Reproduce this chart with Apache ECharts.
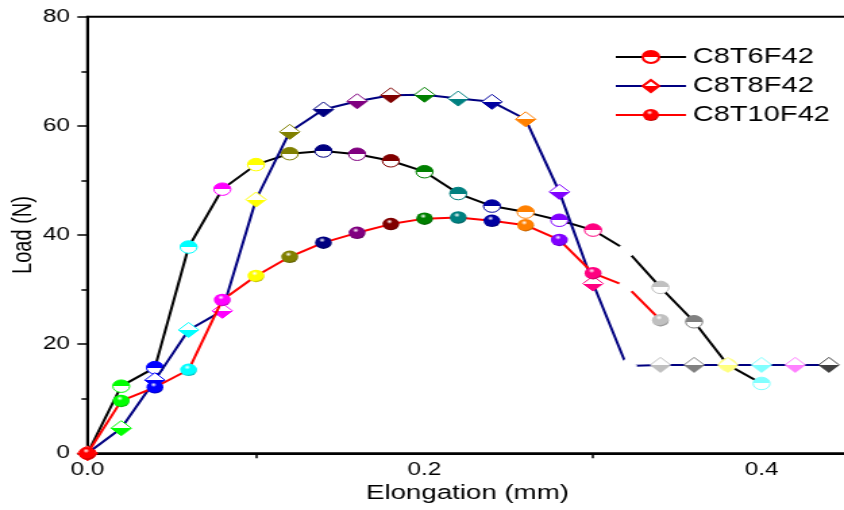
<!DOCTYPE html>
<html>
<head>
<meta charset="utf-8">
<script src="https://cdn.jsdelivr.net/npm/echarts@6/dist/echarts.min.js"></script>
<style>
html,body{margin:0;padding:0;background:#fff;overflow:hidden;width:844px;height:510px;}
#wrap{width:844px;height:510px;overflow:hidden;position:relative;}
#chart{width:625px;height:510px;transform:scaleX(1.3504);transform-origin:0 0;position:absolute;left:0;top:0;}
</style>
</head>
<body>
<div id="wrap"><div id="chart"></div></div>
<script>
// ---- data ----
var seriesNames = ['C8T6F42', 'C8T8F42', 'C8T10F42'];
var elongation = [0, 0.02, 0.04, 0.06, 0.08, 0.10, 0.12, 0.14, 0.16, 0.18, 0.20, 0.22, 0.24, 0.26, 0.28, 0.30, 0.32, 0.34, 0.36, 0.38, 0.40, 0.42, 0.44];
var loadC8T6F42 = [0, 12.3, 15.7, 37.8, 48.4, 52.9, 54.9, 55.4, 54.8, 53.6, 51.6, 47.6, 45.3, 44.2, 42.7, 40.9, 37.2, 30.4, 24.1, 16.2, 12.8];
var loadC8T8F42 = [0, 4.6, 13.4, 22.6, 26.1, 46.5, 58.9, 63.0, 64.5, 65.6, 65.7, 65.0, 64.4, 61.2, 47.9, 31.1, 16.0, 16.2, 16.2, 16.2, 16.2, 16.2, 16.2];
var loadC8T10F42 = [0, 9.6, 12.1, 15.3, 28.1, 32.5, 36.0, 38.6, 40.4, 42.0, 43.0, 43.2, 42.6, 41.8, 39.1, 33.0, 30.6, 24.4];
// Origin colour-increment list, one per point
var pointColors = ['#FF0000', '#00FF00', '#0000FF', '#00FFFF', '#FF00FF', '#FFFF00', '#808000', '#000080', '#800080', '#800000', '#008000', '#008080', '#0000A0', '#FF8000', '#8000FF', '#FF0080', '#FFFFFF', '#C0C0C0', '#808080', '#FFFF80', '#80FFFF', '#FF80FF', '#404040'];
var lineColors = ['#000000', '#000080', '#FF0000'];
var xTicks = [0, 0.2, 0.4];
var yTicks = [0, 20, 40, 60, 80];

function darken(hex, f) {
  var r = parseInt(hex.slice(1, 3), 16), g = parseInt(hex.slice(3, 5), 16), b = parseInt(hex.slice(5, 7), 16);
  return 'rgb(' + Math.round(r * f) + ',' + Math.round(g * f) + ',' + Math.round(b * f) + ')';
}
function fillFor(kind, c) {
  if (c === '#FFFFFF') return '#FFFFFF';
  if (kind === 'halfTop') {
    return {type: 'linear', x: 0, y: 0, x2: 0, y2: 1, colorStops: [
      {offset: 0, color: c}, {offset: 0.5, color: c}, {offset: 0.5, color: '#FFFFFF'}, {offset: 1, color: '#FFFFFF'}]};
  }
  if (kind === 'halfBottom') {
    return {type: 'linear', x: 0, y: 0, x2: 0, y2: 1, colorStops: [
      {offset: 0, color: '#FFFFFF'}, {offset: 0.5, color: '#FFFFFF'}, {offset: 0.5, color: c}, {offset: 1, color: c}]};
  }
  return {type: 'radial', x: 0.42, y: 0.3, r: 0.75, colorStops: [
    {offset: 0, color: '#FFFFFF'}, {offset: 0.25, color: c}, {offset: 0.75, color: c}, {offset: 1, color: darken(c, 0.6)}]};
}
function buildData(ys, kind) {
  return ys.map(function (y, i) {
    var c = pointColors[i];
    return {value: [elongation[i], y], itemStyle: {color: fillFor(kind, c), borderColor: c, borderWidth: kind === 'sphere' ? 0 : 1}};
  });
}
var kinds = ['halfTop', 'halfBottom', 'sphere'];
var symbols = ['circle', 'diamond', 'circle'];
var sizes = [12.5, 15, 12.5];
var allLoads = [loadC8T6F42, loadC8T8F42, loadC8T10F42];

var series = seriesNames.map(function (name, s) {
  return {
    name: name,
    type: 'line',
    data: buildData(allLoads[s], kinds[s]),
    symbol: symbols[s],
    symbolSize: sizes[s],
    showAllSymbol: true,
    clip: false,
    lineStyle: {color: lineColors[s], width: 2},
    itemStyle: {color: fillFor(kinds[s], '#FF0000'), borderColor: '#FF0000', borderWidth: kinds[s] === 'sphere' ? 0 : 1},
    emphasis: {disabled: true},
    z: 2 + s
  };
});

var chart = echarts.init(document.getElementById('chart'), null, {renderer: 'canvas'});
var font = 'Liberation Sans, Arial, sans-serif';
chart.setOption({
  animation: false,
  backgroundColor: '#FFFFFF',
  grid: {left: 64.8, top: 16.7, bottom: 56.7, right: -188.5, containLabel: false, outerBoundsMode: 'none',
    show: true, borderColor: '#000', borderWidth: 2, backgroundColor: 'transparent'},
  legend: {
    orient: 'vertical', left: 450, top: 41, itemGap: 7, itemWidth: 52, itemHeight: 15,
    textStyle: {fontSize: 21.5, color: '#000', fontFamily: font},
    data: seriesNames
  },
  xAxis: {
    type: 'value', min: 0, max: 0.6, interval: 0.2,
    name: 'Elongation (mm)', nameLocation: 'middle', nameGap: 30, nameMoveOverlap: false,
    nameTextStyle: {fontSize: 20.5, color: '#000', fontFamily: font, padding: [0, 186, 0, 0]},
    axisLine: {show: true, lineStyle: {color: '#000', width: 2}},
    axisTick: {show: false},
    minorTick: {show: true, splitNumber: 2, length: 5, lineStyle: {color: '#000', width: 1.5}},
    splitLine: {show: false},
    axisLabel: {fontSize: 18, color: '#000', fontFamily: font, margin: 8,
      formatter: function (v) { return xTicks.indexOf(Math.round(v * 10) / 10) >= 0 ? v.toFixed(1) : ''; }}
  },
  yAxis: {
    type: 'value', min: 0, max: 80, interval: 20,
    name: 'Load (N)', nameLocation: 'middle', nameGap: 37, nameMoveOverlap: false,
    nameTextStyle: {fontSize: 20, color: '#000', fontFamily: font},
    axisLine: {show: true, lineStyle: {color: '#000', width: 2}},
    axisTick: {show: true, length: 7.5, lineStyle: {color: '#000', width: 1.5}},
    minorTick: {show: true, splitNumber: 2, length: 4.5, lineStyle: {color: '#000', width: 1.5}},
    splitLine: {show: false},
    axisLabel: {fontSize: 18, color: '#000', fontFamily: font, margin: 13,
      formatter: function (v) { return yTicks.indexOf(v) >= 0 ? String(v) : ''; }}
  },
  series: series
});
</script>
</body>
</html>
